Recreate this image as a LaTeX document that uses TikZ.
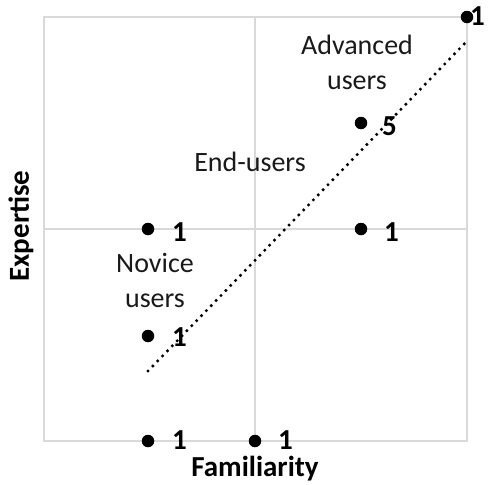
\documentclass[tikz,border=0pt]{standalone}
\usepackage{fontspec}
\setmainfont{Carlito}
\begin{document}
\begin{tikzpicture}[x=1pt,y=-1pt,
  gridline/.style={draw=black!15,line width=2pt},
  pt/.style={circle,fill=black,inner sep=0pt,minimum size=12.5pt},
  count/.style={font=\fontsize{29}{34}\selectfont\bfseries,inner sep=0pt,anchor=west,text=black},
  zone/.style={font=\fontsize{28}{35}\selectfont,align=center,text=black!90},
  axislabel/.style={font=\fontsize{29}{34}\selectfont\bfseries,text=black,inner sep=1pt},
  trend/.style={line width=3.4pt,dash pattern=on 0pt off 7pt,line cap=round}]
\useasboundingbox (0,0) rectangle (488,485);
% quadrant frame
\draw[gridline] (44,17) rectangle (467,441);
\draw[gridline] (255,17) -- (255,441);
\draw[gridline] (44,229) -- (467,229);
% data points with counts
\node[pt] (p1) at (148,229) {};
\node[pt] (p2) at (148,336) {};
\node[pt] (p3) at (148,441) {};
\node[pt] (p4) at (255,441) {};
\node[pt] (p5) at (361,229) {};
\node[pt] (p6) at (361,123) {};
\node[pt] (p7) at (467,17) {};
\node[count] (c1) at (172,232) {1};
\node[count] (c2) at (172,337) {1};
\node[count] (c3) at (172,440) {1};
\node[count] (c4) at (278,440) {1};
\node[count] (c5) at (384,232) {1};
\node[count] (c6) at (382,126) {5};
\node[count] (c7) at (470,16) {1};
% trend line
\coordinate (t0) at (148,371);
\coordinate (t1) at (466,42);
\draw[trend] (t0) -- (t1);
% zone labels
\node[zone] (adv) at (357,62) {Advanced\\users};
\node[zone] (end) at (250,162) {End-users};
\node[zone] (nov) at (155,280) {Novice\\users};
% axis titles
\node[axislabel] (fam) at (255,469) {Familiarity};
\node[axislabel,rotate=90] (exp) at (21,226) {Expertise};
\end{tikzpicture}
\end{document}
